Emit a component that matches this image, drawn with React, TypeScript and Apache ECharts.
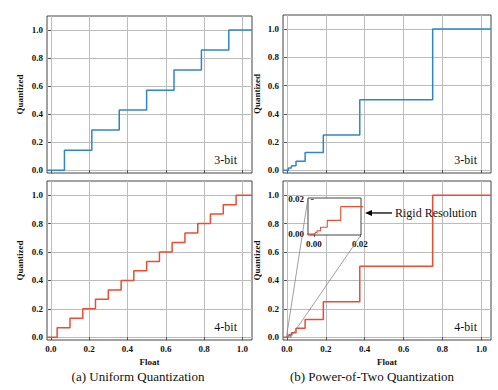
import React, { useEffect, useRef } from 'react';
import * as echarts from 'echarts';

// ---- data ----
const uniform3Thresholds = [0.071, 0.214, 0.357, 0.5, 0.643, 0.786, 0.929];
const uniform3Levels = [0, 0.143, 0.286, 0.429, 0.571, 0.714, 0.857, 1.0];

const uniform4Thresholds = [0.033, 0.1, 0.167, 0.233, 0.3, 0.367, 0.433, 0.5, 0.567, 0.633, 0.7, 0.767, 0.833, 0.9, 0.967];
const uniform4Levels = [0, 0.067, 0.133, 0.2, 0.267, 0.333, 0.4, 0.467, 0.533, 0.6, 0.667, 0.733, 0.8, 0.867, 0.933, 1.0];

const pot3Thresholds = [0.0078, 0.0234, 0.0469, 0.0938, 0.1875, 0.375, 0.75];
const pot3Levels = [0, 0.0156, 0.0313, 0.0625, 0.125, 0.25, 0.5, 1.0];

const pot4Thresholds = [0.00003, 0.000092, 0.000183, 0.000366, 0.000732, 0.00146, 0.00293, 0.00586, 0.0117, 0.0234, 0.0469, 0.0938, 0.1875, 0.375, 0.75];
const pot4Levels = [0, 0.000061, 0.000122, 0.000244, 0.000488, 0.000977, 0.00195, 0.0039, 0.0078, 0.0156, 0.0313, 0.0625, 0.125, 0.25, 0.5, 1.0];

const mainTicks = [0, 0.2, 0.4, 0.6, 0.8, 1.0];
const insetTicks = [0, 0.02];
const xRange = [-0.02, 1.05];
const yRange = [-0.02, 1.1];
const insetXRange = [-0.0025, 0.0205];
const insetYRange = [-0.0005, 0.0205];
const zoomRegion = [0, 0.02];

const panelLabels = ['3-bit', '4-bit', '3-bit', '4-bit'];
const captions = ['(a) Uniform Quantization', '(b) Power-of-Two Quantization'];
const annotationText = 'Rigid Resolution';

const BLUE = '#2f86c6';
const RED = '#ee4b30';
const SERIF = '"Liberation Serif", "DejaVu Serif", serif';

function stepData(xmin: number, xmax: number, thresholds: number[], levels: number[]) {
  const pts: number[][] = [[xmin, levels[0]]];
  thresholds.forEach((t, i) => pts.push([t, levels[i + 1]]));
  pts.push([xmax, levels[levels.length - 1]]);
  return pts;
}

const labelStyle = {
  color: '#111',
  fontFamily: SERIF,
  fontWeight: 'bold' as const,
  fontSize: 9,
};

function xAx(gridIndex: number, range: number[], ticks: number[], showLabels: boolean, digits: number, extra: any = {}) {
  return {
    type: 'value',
    gridIndex,
    min: range[0],
    max: range[1],
    axisLine: { show: false },
    axisTick: { show: true, length: 3, lineStyle: { color: '#333', width: 0.8 }, customValues: ticks },
    axisLabel: {
      show: showLabels,
      customValues: ticks,
      formatter: (v: number) => v.toFixed(digits),
      margin: 4,
      ...labelStyle,
    },
    splitLine: { show: true, lineStyle: { color: '#bcbcbc', width: 1 } },
    ...extra,
  };
}

function yAx(gridIndex: number, range: number[], ticks: number[], digits: number, extra: any = {}) {
  return {
    type: 'value',
    gridIndex,
    min: range[0],
    max: range[1],
    axisLine: { show: false },
    axisTick: { show: true, length: 3, lineStyle: { color: '#333', width: 0.8 }, customValues: ticks },
    axisLabel: {
      show: true,
      customValues: ticks,
      formatter: (v: number) => v.toFixed(digits),
      margin: 4,
      ...labelStyle,
    },
    splitLine: { show: true, lineStyle: { color: '#bcbcbc', width: 1 } },
    ...extra,
  };
}

const nameStyle = { fontFamily: SERIF, fontWeight: 'bold' as const, fontSize: 9, color: '#111' };

export default function App() {
  const ref = useRef<HTMLDivElement>(null);

  useEffect(() => {
    if (!ref.current) return;
    const chart = echarts.init(ref.current, undefined, { renderer: 'svg' });

    const grids = [
      { left: 47, top: 16, width: 205, height: 157 },
      { left: 47, top: 181, width: 205, height: 159 },
      { left: 283, top: 15, width: 208, height: 158 },
      { left: 283, top: 181, width: 208, height: 159 },
    ].map((g) => ({ ...g, show: true, borderColor: '#444', borderWidth: 1, backgroundColor: 'transparent', z: 0 }));

    const insetGrid = { left: 308, top: 198, width: 53, height: 37, show: true, borderColor: '#444', borderWidth: 1, backgroundColor: '#fff', z: 3 };

    const yName = (gap: number) => ({
      name: 'Quantized',
      nameLocation: 'middle',
      nameGap: gap,
      nameTextStyle: nameStyle,
    });
    const xName = {
      name: 'Float',
      nameLocation: 'middle',
      nameGap: 17,
      nameTextStyle: nameStyle,
    };

    const option: any = {
      animation: false,
      backgroundColor: '#fff',
      grid: [...grids, insetGrid],
      xAxis: [
        xAx(0, xRange, mainTicks, false, 1),
        xAx(1, xRange, mainTicks, true, 1, xName),
        xAx(2, xRange, mainTicks, false, 1),
        xAx(3, xRange, mainTicks, true, 1, xName),
        xAx(4, insetXRange, insetTicks, true, 2, { splitLine: { show: false }, z: 4 }),
      ],
      yAxis: [
        yAx(0, yRange, mainTicks, 1, yName(23)),
        yAx(1, yRange, mainTicks, 1, yName(23)),
        yAx(2, yRange, mainTicks, 1, yName(22)),
        yAx(3, yRange, mainTicks, 1, yName(22)),
        yAx(4, insetYRange, insetTicks, 2, { splitLine: { show: false }, z: 4 }),
      ],
      series: [
        { data: stepData(xRange[0], xRange[1], uniform3Thresholds, uniform3Levels), color: BLUE, idx: 0 },
        { data: stepData(xRange[0], xRange[1], uniform4Thresholds, uniform4Levels), color: RED, idx: 1 },
        { data: stepData(xRange[0], xRange[1], pot3Thresholds, pot3Levels), color: BLUE, idx: 2 },
        { data: stepData(xRange[0], xRange[1], pot4Thresholds, pot4Levels), color: RED, idx: 3 },
        { data: stepData(xRange[0], xRange[1], pot4Thresholds, pot4Levels), color: RED, idx: 4 },
      ].map((s) => ({
        type: 'line',
        xAxisIndex: s.idx,
        yAxisIndex: s.idx,
        data: s.data,
        step: 'end',
        showSymbol: false,
        symbol: 'none',
        clip: true,
        z: s.idx === 4 ? 5 : 2,
        lineStyle: { color: s.color, width: s.idx === 4 ? 1.1 : 1.5 },
        itemStyle: { color: s.color },
      })),
    };

    chart.setOption(option);

    // pixel positions through the library's own scales
    const p = (gi: number, v: number[]) => chart.convertToPixel({ xAxisIndex: gi, yAxisIndex: gi } as any, v) as number[];
    const regionUL = p(3, [zoomRegion[0], zoomRegion[1]]);
    const regionLR = p(3, [zoomRegion[1], zoomRegion[0]]);
    const insetUL = p(4, [insetXRange[0], insetYRange[1]]);
    const insetLR = p(4, [insetXRange[1], insetYRange[0]]);
    const arrowY = p(4, [0, 0.012])[1];
    const arrowTip = insetLR[0] + 4;

    const panelText = (i: number, x: number, y: number) => ({
      type: 'text',
      x,
      y,
      z: 10,
      style: {
        text: panelLabels[i],
        fill: '#111',
        font: `12px ${SERIF}`,
        textAlign: 'right',
        textVerticalAlign: 'middle',
      },
    });

    const graphic: any[] = [
      panelText(0, 237, 160),
      panelText(1, 237, 327),
      panelText(2, 477, 160),
      panelText(3, 477, 327),
      {
        type: 'text', x: 138, y: 376, z: 10,
        style: { text: captions[0], fill: '#111', font: `13px ${SERIF}`, textAlign: 'center', textVerticalAlign: 'middle' },
      },
      {
        type: 'text', x: 372, y: 376, z: 10,
        style: { text: captions[1], fill: '#111', font: `13px ${SERIF}`, textAlign: 'center', textVerticalAlign: 'middle' },
      },
      // zoom connector lines
      {
        type: 'line', z: 6, silent: true,
        shape: { x1: insetUL[0], y1: insetUL[1], x2: regionUL[0], y2: regionUL[1] },
        style: { stroke: '#777', lineWidth: 0.7 },
      },
      {
        type: 'line', z: 6, silent: true,
        shape: { x1: insetLR[0], y1: insetLR[1], x2: regionLR[0], y2: regionLR[1] },
        style: { stroke: '#777', lineWidth: 0.7 },
      },
      {
        type: 'rect', z: 6, silent: true,
        shape: { x: regionUL[0], y: regionUL[1], width: regionLR[0] - regionUL[0], height: regionLR[1] - regionUL[1] },
        style: { stroke: '#777', fill: 'none', lineWidth: 0.7 },
      },
      // annotation arrow
      {
        type: 'line', z: 10, silent: true,
        shape: { x1: arrowTip + 5, y1: arrowY, x2: arrowTip + 27, y2: arrowY },
        style: { stroke: '#000', lineWidth: 1.3 },
      },
      {
        type: 'polygon', z: 10, silent: true,
        shape: { points: [[arrowTip, arrowY], [arrowTip + 7, arrowY - 3], [arrowTip + 7, arrowY + 3]] },
        style: { fill: '#000' },
      },
      {
        type: 'text', x: arrowTip + 30, y: arrowY, z: 10,
        style: { text: annotationText, fill: '#111', font: `12px ${SERIF}`, textAlign: 'left', textVerticalAlign: 'middle' },
      },
    ];

    chart.setOption({ graphic });

    return () => {
      chart.dispose();
    };
  }, []);

  return (
    <div
      ref={ref}
      style={{ position: 'fixed', left: 0, top: 0, width: 498, height: 390, background: '#fff' }}
    />
  );
}
